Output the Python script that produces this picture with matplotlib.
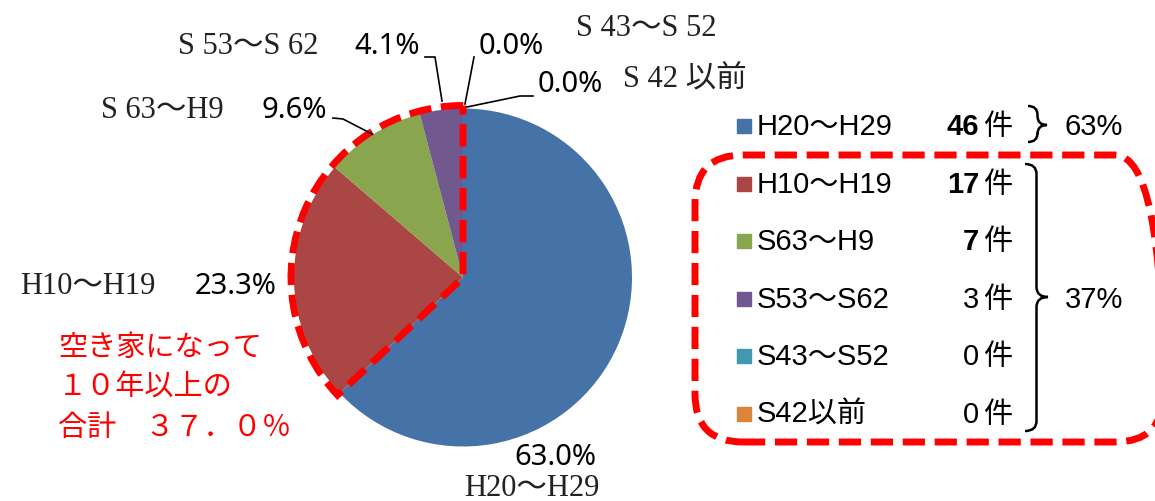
import matplotlib
matplotlib.use("Agg")
import matplotlib.pyplot as plt
import numpy as np
from matplotlib.patches import Wedge, FancyBboxPatch, PathPatch
from matplotlib.path import Path

# data
periods = ["H20～H29", "H10～H19", "S63～H9", "S53～S62", "S43～S52", "S42以前"]
pie_names = ["H20～H29", "H10～H19", "S 63～H9", "S 53～S 62", "S 43～S 52", "S 42 以前"]
counts = np.array([46, 17, 7, 3, 0, 0])
colors = ["#4572A7", "#AA4643", "#89A54E", "#71588F", "#4198AF", "#DB843D"]
note_lines = ["空き家になって", "１０年以上の", "合計　３７．０％"]
group_pcts = ["63%", "37%"]

W, H = 1155, 502
JP = ["Noto Sans CJK JP", "DejaVu Sans"]
SANS = ["Liberation Sans", "Noto Sans CJK JP"]
SERIF = ["Liberation Serif", "Noto Sans CJK JP"]

fig = plt.figure(figsize=(W / 100, H / 100), dpi=100)
ax = fig.add_axes([0, 0, 1, 1])

def Y(y):
    return H - y

cx, cy, r = 463, Y(278.5), 169
ax.pie(counts, colors=colors, startangle=90, counterclock=False,
       center=(cx, cy), radius=r, wedgeprops=dict(linewidth=0))

pcts = counts / counts.sum() * 100
pct_txt = ["%.1f%%" % p for p in pcts]

# red dashed outline around the older part
theta2 = 90 + 360 * counts[1:].sum() / counts.sum()
ax.add_patch(Wedge((cx, cy), r + 3, 90, theta2, fill=False, ec="red",
                   lw=5, ls=(0, (3.2, 1.4)), zorder=5))

# pie labels: (name pos, pct pos)
lab_pos = [((532, 489), (555, 458)),
           ((88, 287), (236, 287)),
           ((162, 110), (294, 110)),
           ((248, 46), (387, 46)),
           ((646, 28), (511, 47)),
           ((685, 80), (570, 85))]
for name, pct, (npos, ppos) in zip(pie_names, pct_txt, lab_pos):
    ax.text(npos[0], Y(npos[1]), name, family=SERIF, fontsize=22,
            ha="center", va="center", color="#222222")
    ax.text(ppos[0], Y(ppos[1]), pct, family=["Noto Sans"], fontsize=21,
            fontweight="medium", ha="center", va="center", color="black")

# leader lines
leaders = [[(333, 119), (343, 120), (372, 135)],
           [(425, 58), (435, 58), (442, 102)],
           [(474, 58), (465, 105)],
           [(533, 97), (520, 97), (467, 108)]]
for pts in leaders:
    xs = [p[0] for p in pts]
    ys = [Y(p[1]) for p in pts]
    ax.plot(xs, ys, color="black", lw=1.2, zorder=6)

# red note
for i, line in enumerate(note_lines):
    ax.text(58, Y(348 + i * 40), line, family=JP, fontsize=21, color="red",
            ha="left", va="center")

# legend
row_y = [127, 185, 242, 300, 357, 415]
for i, (name, c, n) in enumerate(zip(periods, colors, counts)):
    yy = Y(row_y[i])
    ax.scatter([744], [yy], marker="s", s=110, color=c, zorder=6)
    ax.text(757, yy, name, family=SANS, fontsize=21, ha="left", va="center")
    ax.text(979, yy, str(n), family=SANS, fontsize=21, ha="right", va="center",
            fontweight="bold" if n > 5 else "normal")
    ax.text(983, yy, "件", family=JP, fontsize=21, ha="left", va="center")

# dashed rounded box
ax.add_patch(FancyBboxPatch((695, Y(443)), 1163 - 695, 443 - 156,
                            boxstyle="round,pad=0,rounding_size=48",
                            fill=False, ec="red", lw=5, ls=(0, (3.2, 1.4)),
                            clip_on=False))

def brace(x0, x1, y0, y1, ym):
    xm = (x0 + x1) / 2
    k = min(10, (y1 - y0) / 4)
    verts = [(x0, Y(y0)), (xm, Y(y0)), (xm, Y(y0 + k)),
             (xm, Y(ym - k)), (xm, Y(ym)), (x1, Y(ym)),
             (xm, Y(ym)), (xm, Y(ym + k)),
             (xm, Y(y1 - k)), (xm, Y(y1)), (x0, Y(y1))]
    codes = [Path.MOVETO, Path.CURVE3, Path.CURVE3,
             Path.LINETO, Path.CURVE3, Path.CURVE3,
             Path.CURVE3, Path.CURVE3,
             Path.LINETO, Path.CURVE3, Path.CURVE3]
    ax.add_patch(PathPatch(Path(verts, codes), fill=False, lw=1.8, ec="black"))

brace(1028, 1047, 107, 143, 126)
brace(1025, 1048, 165, 432, 298)
ax.text(1065, Y(127), group_pcts[0], family=SANS, fontsize=21, ha="left", va="center")
ax.text(1065, Y(300), group_pcts[1], family=SANS, fontsize=21, ha="left", va="center")

ax.set_xlim(0, W)
ax.set_ylim(0, H)
ax.set_aspect("auto")
ax.axis("off")
fig.savefig("out.png", dpi=100)
